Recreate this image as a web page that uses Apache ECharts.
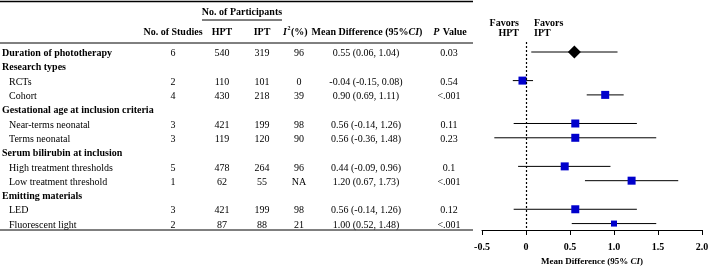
<!DOCTYPE html>
<html>
<head>
<meta charset="utf-8">
<script src="https://cdn.jsdelivr.net/npm/echarts@6/dist/echarts.min.js"></script>
<style>
  html, body { margin: 0; padding: 0; background: #fff; }
  #chart { width: 708px; height: 266px; }
</style>
</head>
<body>
<div id="chart"></div>
<script>
// rows of the table, top to bottom
const rowLabels = [
  'Duration of phototherapy', 'Research types', 'RCTs', 'Cohort',
  'Gestational age at inclusion criteria', 'Near-terms neonatal', 'Terms neonatal',
  'Serum bilirubin at inclusion', 'High treatment thresholds', 'Low treatment threshold',
  'Emitting materials', 'LED', 'Fluorescent light'
]
const isGroup = [true, true, false, false, true, false, false, true, false, false, true, false, false]
const studies = ['6', '', '2', '4', '', '3', '3', '', '5', '1', '', '3', '2']
const hpt = ['540', '', '110', '430', '', '421', '119', '', '478', '62', '', '421', '87']
const ipt = ['319', '', '101', '218', '', '199', '120', '', '264', '55', '', '199', '88']
const i2 = ['96', '', '0', '39', '', '98', '90', '', '96', 'NA', '', '98', '21']
const mdText = ['0.55 (0.06, 1.04)', '', '-0.04 (-0.15, 0.08)', '0.90 (0.69, 1.11)', '',
  '0.56 (-0.14, 1.26)', '0.56 (-0.36, 1.48)', '', '0.44 (-0.09, 0.96)', '1.20 (0.67, 1.73)', '',
  '0.56 (-0.14, 1.26)', '1.00 (0.52, 1.48)']
const pText = ['0.03', '', '0.54', '<.001', '', '0.11', '0.23', '', '0.1', '<.001', '', '0.12', '<.001']
const mean = [0.55, null, -0.04, 0.90, null, 0.56, 0.56, null, 0.44, 1.20, null, 0.56, 1.00]
const lower = [0.06, null, -0.15, 0.69, null, -0.14, -0.36, null, -0.09, 0.67, null, -0.14, 0.52]
const upper = [1.04, null, 0.08, 1.11, null, 1.26, 1.48, null, 0.96, 1.73, null, 1.26, 1.48]
const markSize = [13, null, 8, 8, null, 8, 8, null, 8, 8, null, 8, 6]

const FONT = 'Liberation Serif'
const FS = 10
// column positions of the table (layout)
const colX = { label: 2, indent: 9, studies: 173, hpt: 222, ipt: 262, i2: 299, md: 366, p: 449 }
const textDy = 1.5

const chart = echarts.init(document.getElementById('chart'))

const ciData = [], boxData = [], diamondData = [], tableData = []
rowLabels.forEach((lab, i) => {
  tableData.push([0, i])
  if (mean[i] === null) return
  ciData.push([lower[i], upper[i], i])
  if (i === 0) diamondData.push({ value: [mean[i], i], symbolSize: markSize[i] })
  else boxData.push({ value: [mean[i], i], symbolSize: markSize[i] })
})

function txt(x, y, text, align, bold, italic, size) {
  return {
    type: 'text', x: x, y: y,
    style: {
      text: text, fill: '#000', align: align, verticalAlign: 'middle',
      font: (italic ? 'italic ' : '') + (bold ? 'bold ' : '') + (size || FS) + 'px "' + FONT + '"'
    }
  }
}

const option = {
  animation: false,
  grid: { left: 482, right: 6, top: 42, bottom: 36, outerBoundsMode: 'none' },
  xAxis: {
    type: 'value', min: -0.5, max: 2, interval: 0.5,
    splitLine: { show: false },
    axisLine: { show: true, onZero: false, lineStyle: { color: '#000', width: 1 } },
    axisTick: { show: true, length: 5, lineStyle: { color: '#000', width: 1 } },
    axisLabel: {
      color: '#000', fontFamily: FONT, fontSize: FS, fontWeight: 'bold', margin: 12,
      formatter: v => (v === 0 ? '0' : v.toFixed(1))
    },
    name: 'Mean Difference (95% {i|CI})',
    nameLocation: 'middle', nameGap: 27,
    nameTextStyle: {
      color: '#000', fontFamily: FONT, fontSize: 9, fontWeight: 'bold',
      rich: { i: { fontFamily: FONT, fontSize: 9, fontWeight: 'bold', fontStyle: 'italic', color: '#000' } }
    }
  },
  yAxis: { type: 'value', inverse: true, min: -0.7, max: 12.45, show: false },
  series: [
    {
      type: 'custom',
      name: 'ci',
      data: ciData,
      z: 2,
      renderItem: function (params, api) {
        const a = api.coord([api.value(0), api.value(2)])
        const b = api.coord([api.value(1), api.value(2)])
        return {
          type: 'line',
          shape: { x1: a[0], y1: a[1], x2: b[0], y2: b[1] },
          style: { stroke: '#000', lineWidth: 1 }
        }
      },
      markLine: {
        silent: true, symbol: 'none', label: { show: false },
        lineStyle: { color: '#000', type: [2, 2], width: 1.2 },
        data: [{ xAxis: 0 }]
      }
    },
    {
      type: 'scatter', name: 'subgroups', symbol: 'rect', z: 3,
      itemStyle: { color: '#0000CC', opacity: 1 },
      data: boxData
    },
    {
      type: 'scatter', name: 'overall', symbol: 'diamond', z: 3,
      itemStyle: { color: '#000', opacity: 1 },
      data: diamondData
    },
    {
      type: 'custom',
      name: 'table',
      data: tableData,
      clip: false,
      silent: true,
      renderItem: function (params, api) {
        const i = api.value(1)
        const y = api.coord([0, i])[1] + textDy
        const kids = [txt(isGroup[i] ? colX.label : colX.indent, y, rowLabels[i], 'left', isGroup[i])]
        if (studies[i]) {
          kids.push(txt(colX.studies, y, studies[i], 'center'))
          kids.push(txt(colX.hpt, y, hpt[i], 'center'))
          kids.push(txt(colX.ipt, y, ipt[i], 'center'))
          kids.push(txt(colX.i2, y, i2[i], 'center'))
          kids.push(txt(colX.md, y, mdText[i], 'center'))
          kids.push(txt(colX.p, y, pText[i], 'center'))
        }
        return { type: 'group', children: kids }
      }
    }
  ],
  graphic: [
    { type: 'line', shape: { x1: 0, y1: 1.5, x2: 473, y2: 1.5 }, style: { stroke: '#000', lineWidth: 1.5 } },
    { type: 'line', shape: { x1: 202, y1: 20, x2: 282, y2: 20 }, style: { stroke: '#000', lineWidth: 1 } },
    { type: 'line', shape: { x1: 0, y1: 43, x2: 473, y2: 43 }, style: { stroke: '#000', lineWidth: 1 } },
    { type: 'line', shape: { x1: 0, y1: 230, x2: 473, y2: 230 }, style: { stroke: '#000', lineWidth: 1 } },
    txt(242, 12, 'No. of Participants', 'center', true),
    txt(colX.studies, 32, 'No. of Studies', 'center', true),
    txt(colX.hpt, 32, 'HPT', 'center', true),
    txt(colX.ipt, 32, 'IPT', 'center', true),
    // I²(%) header
    txt(287, 32, 'I', 'right', true, true),
    txt(287.5, 28, '2', 'left', true, false, 6),
    txt(291, 32, '(%)', 'left', true),
    {
      type: 'text', x: 367, y: 32,
      style: {
        text: '{n|Mean Difference (95%}{i|CI}{n|)}', align: 'center', verticalAlign: 'middle',
        rich: {
          i: { font: 'bold italic ' + FS + 'px "' + FONT + '"', fill: '#000' },
          n: { font: 'bold ' + FS + 'px "' + FONT + '"', fill: '#000' }
        }
      }
    },
    {
      type: 'text', x: 450, y: 32,
      style: {
        text: '{i|P} {n|Value}', align: 'center', verticalAlign: 'middle',
        rich: {
          i: { font: 'bold italic ' + FS + 'px "' + FONT + '"', fill: '#000' },
          n: { font: 'bold ' + FS + 'px "' + FONT + '"', fill: '#000' }
        }
      }
    },
    txt(519, 23, 'Favors', 'right', true),
    txt(519, 33, 'HPT', 'right', true),
    txt(534, 23, 'Favors', 'left', true),
    txt(534, 33, 'IPT', 'left', true)
  ]
}

chart.setOption(option)
</script>
</body>
</html>
